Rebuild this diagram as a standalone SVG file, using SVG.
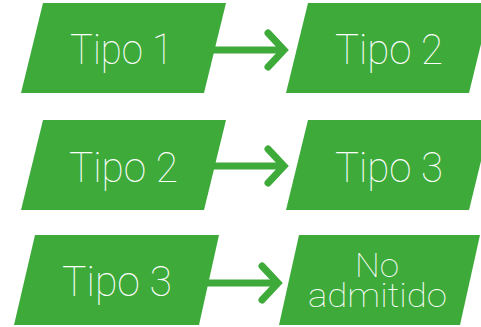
<svg xmlns="http://www.w3.org/2000/svg" width="481" height="327" viewBox="0 0 481 327">
<style>
.box{fill:#3DAA3A;}
.t{fill:#fff;font-family:Roboto,"Liberation Sans",sans-serif;font-weight:100;font-size:43px;text-anchor:middle;}
.s{font-size:33px;}
.c{fill:none;stroke:#3DAA3A;stroke-width:7;stroke-linecap:round;}
.b{stroke-linecap:butt;}
</style>
<rect width="481" height="327" fill="#fff"/>
<g id="connectors">
<path class="c b" d="M212 50H284"/>
<path class="c" d="M268 33L284 50L268 67"/>
<path class="c b" d="M212 166H284"/>
<path class="c" d="M268 149L284 166L268 183"/>
<path class="c b" d="M206 283H278"/>
<path class="c" d="M262 266L278 283L262 300"/>
</g>
<g id="n1"><polygon class="box" points="43,3 226,3 204,93 21,93"/><text class="t" x="121.5" y="64" textLength="103" lengthAdjust="spacingAndGlyphs">Tipo 1</text></g>
<g id="n2"><polygon class="box" points="308,3 491,3 469,93 286,93"/><text class="t" x="389" y="64" textLength="108" lengthAdjust="spacingAndGlyphs">Tipo 2</text></g>
<g id="n3"><polygon class="box" points="43,120 226,120 204,210 21,210"/><text class="t" x="123.5" y="182" textLength="109" lengthAdjust="spacingAndGlyphs">Tipo 2</text></g>
<g id="n4"><polygon class="box" points="308,120 491,120 469,210 286,210"/><text class="t" x="389" y="182" textLength="108" lengthAdjust="spacingAndGlyphs">Tipo 3</text></g>
<g id="n5"><polygon class="box" points="35,235 219,235 199,325 14,325"/><text class="t" x="117" y="296" textLength="110" lengthAdjust="spacingAndGlyphs">Tipo 3</text></g>
<g id="n6"><polygon class="box" points="299,235 480,235 460,325 279,325"/><text class="t s" x="377" y="277" textLength="44" lengthAdjust="spacingAndGlyphs">No</text><text class="t s" x="377.5" y="307" textLength="139" lengthAdjust="spacingAndGlyphs">admitido</text></g>
</svg>
